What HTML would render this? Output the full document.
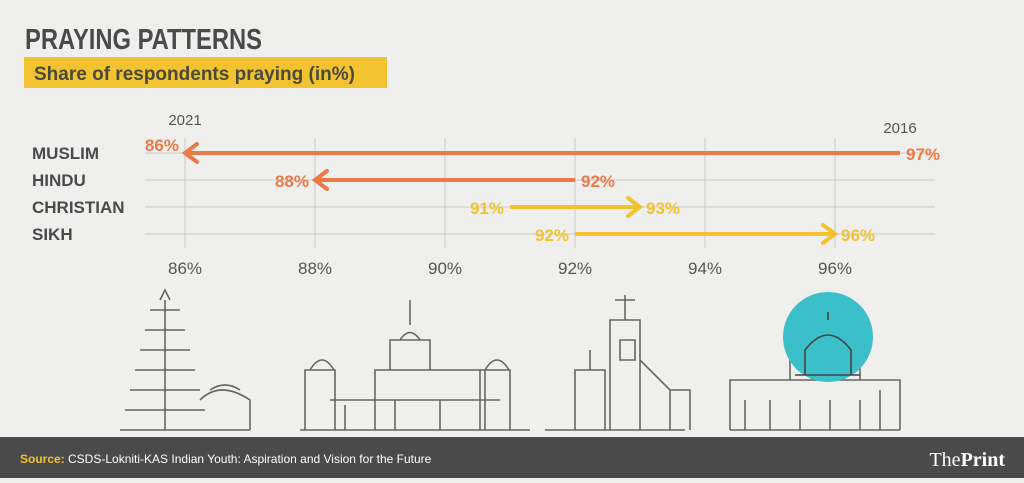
<!DOCTYPE html>
<html><head><meta charset="utf-8"><style>
body{margin:0;width:1024px;height:478px;overflow:hidden;background:#efefed;font-family:"Liberation Sans",sans-serif}
</style></head><body>
<svg width="1024" height="478" viewBox="0 0 1024 478" id="svg">
<rect x="0" y="0" width="1024" height="478" fill="#efefed"/>
<text x="25" y="49" font-size="29" font-weight="bold" fill="#4a4a4a" textLength="237" lengthAdjust="spacingAndGlyphs">PRAYING PATTERNS</text>
<rect x="24" y="57" width="363" height="31" fill="#f2c230"/>
<text x="34" y="80" font-size="19" font-weight="bold" fill="#4a4a3a">Share of respondents praying (in%)</text>
<g id="grid"></g>
<g id="marks"></g>
<text x="185" y="125" font-size="15" fill="#555" text-anchor="middle">2021</text>
<text x="900" y="133" font-size="15" fill="#555" text-anchor="middle">2016</text>
<g fill="none" stroke="#666" stroke-width="1.6">
<path d="M120 430 L250 430 M160 300 L165 290 L170 300 M150 310 h30 M145 330 h40 M140 350 h50 M135 370 h60 M130 390 h70 M125 410 h80 M165 300 v130 M200 400 q20 -20 50 0 v30 M210 390 q15 -10 30 0"/>
<path d="M300 430 h230 M305 430 v-60 h30 v60 M310 370 q12 -20 24 0 M375 430 v-60 h110 v60 M390 370 v-30 h40 v30 M400 340 q10 -15 20 0 M410 325 v-25 M480 430 v-60 h30 v60 M485 370 q12 -20 24 0 M330 400 h170 M345 430 v-25 M395 430 v-30 M440 430 v-30"/>
<path d="M545 430 h140 M575 430 v-60 h30 v60 M590 370 v-20 M610 430 v-110 h30 v110 M625 320 v-25 M615 300 h20 M640 360 l30 30 v40 M670 390 h20 v40 M620 340 h15 v20 h-15z"/>
<path d="M730 430 h170 M730 430 v-50 h170 v50 M790 380 v-20 h70 v20 M745 430 v-30 M770 430 v-30 M800 430 v-30 M830 430 v-30 M860 430 v-30 M880 430 v-40"/>
</g>
<circle cx="828" cy="337" r="45" fill="#3bbfc9"/>
<path d="M805 375 v-25 q23 -30 46 0 v25 M795 375 h65 M828 320 v-8" fill="none" stroke="#444" stroke-width="1.6"/>
<rect x="0" y="437" width="1024" height="41" fill="#4a4a4a"/>
<text x="20" y="463" font-size="12" fill="#fff"><tspan font-weight="bold" fill="#f2c230">Source: </tspan>CSDS-Lokniti-KAS Indian Youth: Aspiration and Vision for the Future</text>
<text x="1005" y="466" font-size="20" fill="#fff" text-anchor="end" font-family="Liberation Serif,serif">The<tspan font-weight="bold">Print</tspan></text>
</svg>
<script>
const categories=["MUSLIM","HINDU","CHRISTIAN","SIKH"];
const values2016=[97,92,91,92];
const values2021=[86,88,93,96];
const ticks=[86,88,90,92,94,96];
const NS="http://www.w3.org/2000/svg";
const x=v=>185+(v-86)*65;
const rowY=[153,180,207,234];
const y=i=>rowY[i];
function mk(t,a,p){const e=document.createElementNS(NS,t);for(const k in a)e.setAttribute(k,a[k]);p.appendChild(e);return e;}
const grid=document.getElementById('grid'),marks=document.getElementById('marks');
ticks.forEach(t=>{
 const l=mk('line',{x1:x(t),x2:x(t),y1:138,y2:248,stroke:'#c8c8c8','stroke-width':1},grid);
 
 
 const tx=mk('text',{x:x(t),y:274,'font-size':17,fill:'#555','text-anchor':'middle'},grid);
 tx.textContent=t+'%';
 
 
});
categories.forEach((c,i)=>{
 const l=mk('line',{x1:145,x2:935,y1:y(i),y2:y(i),stroke:'#c8c8c8','stroke-width':1},grid);
 
 
 const t=mk('text',{x:32,y:y(i)+6,'font-size':17,'font-weight':'bold',fill:'#4a4a4a'},grid);
 t.textContent=c;
 
 
 const a=values2016[i],b=values2021[i];
 const col=b<a?'#ec7a47':'#f2c230';
 const dir=b<a?-1:1;
 const ln=mk('line',{x1:x(a),x2:x(b),y1:y(i),y2:y(i),stroke:col,'stroke-width':4},marks);
 
 
 const hd=mk('path',{d:`M${x(b)-dir*12} ${y(i)-9} L${x(b)} ${y(i)} L${x(b)-dir*12} ${y(i)+9}`,fill:'none',stroke:col,'stroke-width':4,'stroke-linecap':'round'},marks);
 
 
 const s=mk('text',{x:x(a)-dir*6,y:y(i)+7,'font-size':17,'font-weight':'bold',fill:col,'text-anchor':dir<0?'start':'end'},marks);
 s.textContent=a+'%';
 
 
 const e=mk('text',{x:x(b)+dir*6,y:y(i)+(i==0?-2:7),'font-size':17,'font-weight':'bold',fill:col,'text-anchor':dir<0?'end':'start'},marks);
 e.textContent=b+'%';
 
 
});
</script>
</body></html>
